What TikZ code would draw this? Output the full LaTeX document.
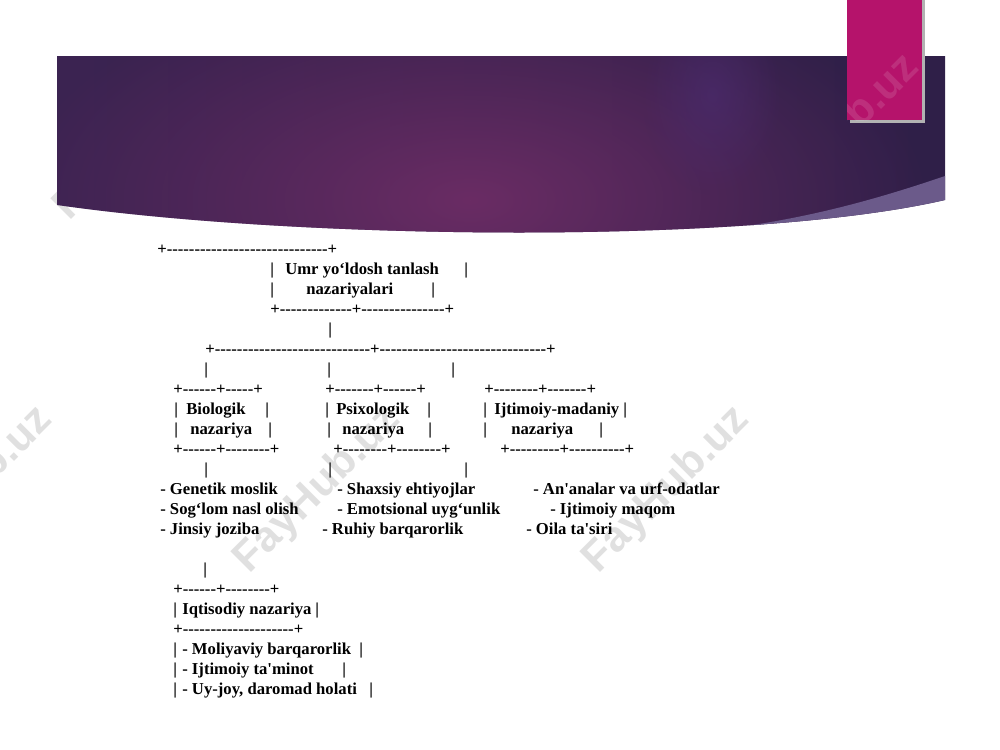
\documentclass[tikz,border=0pt]{standalone}
\usepackage{fontspec}
\setmainfont{Liberation Serif}[Ligatures=TeXOff]
\newfontfamily\wmfont{Liberation Sans}
\usetikzlibrary{fadings}
\definecolor{bandL}{HTML}{3B2351}
\definecolor{bandM}{HTML}{57295D}
\definecolor{bandR}{HTML}{2F1F48}
\definecolor{bandG}{HTML}{6A2C64}
\definecolor{bandB}{HTML}{4C2C72}
\definecolor{wedge}{HTML}{6B5A8A}
\definecolor{rose}{HTML}{B5136B}
\tikzfading[name=soft, inner color=transparent!0, outer color=transparent!100]
\begin{document}
\begin{tikzpicture}[x=0.75pt,y=-0.75pt,
    asc/.style={anchor=base west,inner sep=0pt,font=\fontsize{12.5}{15}\selectfont\bfseries},
    wm/.style={rotate=45,text=black!12,font=\wmfont\fontsize{32}{36}\selectfont\bfseries}]
    \useasboundingbox (0,0) rectangle (1000,750);
    \clip (0,0) rectangle (1000,750);
    % watermarks
    \begin{scope}
        \clip (0,56) rectangle (1000,750);
        \node[wm] (wm0) at (138,137) {FayHub.uz};
    \end{scope}
    \foreach \x/\y [count=\i] in {-30/490, 318/490, 667/490}{
        \node[wm] (wm\i) at (\x,\y) {FayHub.uz};
    }
    % title band
    \def\band{(57,56) -- (945,56) -- (945,200) .. controls (750,245) and (300,240) .. (57,205) -- cycle}
    \shade[left color=bandL, middle color=bandM, right color=bandR] \band;
    \begin{scope}
        \clip \band;
        \fill[bandG, path fading=soft] (470,200) ellipse (460 and 230);
        \fill[bandB, path fading=soft, fill opacity=.6] (712,95) ellipse (70 and 100);
        \fill[wedge] (945,176) .. controls (860,205) and (790,222) .. (700,232) -- (700,260) -- (960,260) -- cycle;
    \end{scope}
    \fill[black!30] (850,0) rectangle (925,123);
    \fill[rose] (847,0) rectangle (922,120);
    \begin{scope}
        \clip (847,0) rectangle (922,120);
        \node[wm,text=white,opacity=.12] (wm5) at (837,138) {FayHub.uz};
    \end{scope}
    % top part
    \foreach \x/\y/\t [count=\i] in {
        157/254/+-----------------------------+,
        270/274/|, 285/274/Umr yo‘ldosh tanlash, 464/274/|,
        270/294/|, 306/294/nazariyalari, 431/294/|,
        270/314/+-------------+---------------+,
        328/334/|,
        205/354/+----------------------------+------------------------------+,
        204/374/|, 327/374/|, 451/374/|}{
        \node[asc] (t\i) at (\x,\y) {\t};
    }
    % three theories
    \foreach \x/\y/\t [count=\i] in {
        173/394/+------+-----+, 325/394/+-------+------+, 484/394/+--------+-------+,
        174/414/|, 186/414/Biologik, 265/414/|,
        325/414/|, 336/414/Psixologik, 427/414/|,
        483/414/|, 494/414/Ijtimoiy-madaniy, 623/414/|,
        174/434/|, 190/434/nazariya, 268/434/|,
        327/434/|, 342/434/nazariya, 428/434/|,
        483/434/|, 511/434/nazariya, 599/434/|,
        173/454/+------+--------+, 333/454/+--------+--------+, 500/454/+---------+----------+,
        204/474/|, 328/474/|, 464/474/|,
        160/494/- Genetik moslik, 337/494/- Shaxsiy ehtiyojlar, 533/494/- An'analar va urf-odatlar,
        160/514/- Sog‘lom nasl olish, 337/514/- Emotsional uyg‘unlik, 550/514/- Ijtimoiy maqom,
        160/534/- Jinsiy joziba, 322/534/- Ruhiy barqarorlik, 526/534/- Oila ta'siri}{
        \node[asc] (b\i) at (\x,\y) {\t};
    }
    % economic theory
    \foreach \x/\y/\t [count=\i] in {
        203/574/|,
        173/594/+------+--------+,
        173/614/|, 182/614/Iqtisodiy nazariya, 315/614/|,
        173/634/+--------------------+,
        173/654/|, 182/654/- Moliyaviy barqarorlik, 359/654/|,
        173/674/|, 182/674/- Ijtimoiy ta'minot, 342/674/|,
        173/694/|, 182/694/{- Uy-joy, daromad holati}, 369/694/|}{
        \node[asc] (e\i) at (\x,\y) {\t};
    }
\end{tikzpicture}
\end{document}
